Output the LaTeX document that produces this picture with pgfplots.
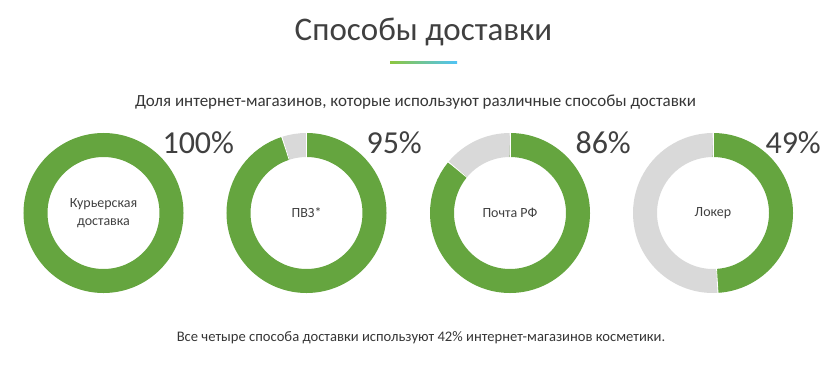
\documentclass[border=0pt]{standalone}
\usepackage{pgfplots}
\pgfplotsset{compat=1.18}
\usepackage{fontspec}
\setmainfont{Carlito}
\definecolor{dgreen}{RGB}{101,165,63}
\definecolor{lgrey}{RGB}{217,217,217}
\definecolor{txt}{RGB}{64,64,64}
\definecolor{gA}{RGB}{141,198,63}
\definecolor{gB}{RGB}{79,195,247}
\newcommand{\donut}[3]{% cx, value, label
  \ifnum#2<100
    \draw[lgrey, line width=24pt] (axis cs:#1,213) ++({90-3.6*#2}:68pt) arc[start angle={90-3.6*#2}, end angle=-270, radius=68pt];
    \draw[dgreen, line width=24pt] (axis cs:#1,213) ++(90:68pt) arc[start angle=90, end angle={90-3.6*#2}, radius=68pt];
    \draw[white, line width=0.8pt] (axis cs:#1,213) ++(90:55pt) -- ++(90:26pt);
    \draw[white, line width=0.8pt] (axis cs:#1,213) ++({90-3.6*#2}:55pt) -- ++({90-3.6*#2}:26pt);
  \else
    \draw[dgreen, line width=24pt] (axis cs:#1,213) circle[radius=68pt];
  \fi
  \node[align=center, font=\fontsize{14}{18}\selectfont, text=txt] at (axis cs:#1,213) {#3};
}
\begin{document}
\begin{tikzpicture}
\begin{axis}[width=840pt, height=364pt, scale only axis, xmin=0, xmax=840, ymin=0, ymax=364, y dir=reverse, hide axis, clip=false]
\addplot[draw=none] coordinates {(0,0) (840,364)};
\node[anchor=base, font=\fontsize{33}{38}\selectfont, text=txt] at (axis cs:423.5,40) {Способы доставки};
\shade[left color=gA, right color=gB] (axis cs:390,61) rectangle (axis cs:457,63);
\node[anchor=base, font=\fontsize{17}{20}\selectfont, text=txt!85!black] at (axis cs:415.5,106) {Доля интернет-магазинов, которые используют различные способы доставки};
\donut{103.5}{100}{Курьерская\\доставка}
\donut{306.5}{95}{ПВЗ*}
\donut{510}{86}{Почта РФ}
\donut{713}{49}{Локер}
\node[anchor=base west, font=\fontsize{32}{36}\selectfont, text=txt] at (axis cs:159,153) {100\%};
\node[anchor=base west, font=\fontsize{32}{36}\selectfont, text=txt] at (axis cs:363,153) {95\%};
\node[anchor=base west, font=\fontsize{32}{36}\selectfont, text=txt] at (axis cs:572,153) {86\%};
\node[anchor=base west, font=\fontsize{32}{36}\selectfont, text=txt] at (axis cs:762,153) {49\%};
\node[anchor=base, font=\fontsize{14.6}{18}\selectfont, text=txt!85!black] at (axis cs:421,341) {Все четыре способа доставки используют 42\% интернет-магазинов косметики.};
\end{axis}
\end{tikzpicture}
\end{document}
